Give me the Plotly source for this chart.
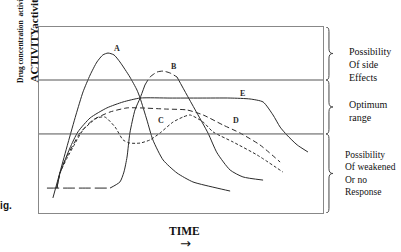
import plotly.graph_objects as go

# ---- data (time 0-100, response 0-100) ----
A_x = [4.9, 7.4, 10.2, 13.0, 15.5, 18.0, 20.4, 22.5, 24.3, 26.4, 28.5, 32.0, 34.5, 35.6, 38.0, 40.1, 43.7, 48.6, 54.2, 62.7, 67.3]
A_y = [8.1, 22.0, 37.6, 52.7, 65.1, 74.2, 81.2, 85.0, 86.0, 85.0, 81.2, 73.1, 66.1, 61.8, 50.0, 39.3, 28.5, 21.5, 16.7, 13.4, 11.8]

B_x = [2.8, 10.9, 18.0, 25.0, 28.5, 29.9, 31.0, 32.0, 33.8, 35.6, 37.3, 39.1, 41.6, 43.7, 46.1, 48.6, 52.1, 55.6, 59.5, 62.7, 67.3, 71.8, 78.9]
B_y = [13.4, 13.4, 13.4, 13.4, 16.7, 22.0, 30.1, 43.0, 55.4, 61.8, 68.8, 73.1, 75.8, 76.3, 75.3, 73.1, 63.4, 53.8, 43.0, 32.3, 23.1, 19.4, 17.7]

C_x = [6.3, 7.4, 9.9, 12.0, 15.5, 20.4, 23.2, 26.8, 29.6, 32.0, 35.6, 39.1, 42.6, 47.2, 50.7, 53.2, 57.8, 61.3, 68.3, 76.8, 85.9]
C_y = [13.4, 21.5, 29.6, 35.5, 44.6, 51.1, 51.6, 46.2, 39.3, 37.6, 37.6, 39.3, 43.0, 48.9, 51.6, 52.7, 48.9, 43.6, 38.2, 31.2, 22.0]

D_x = [6.3, 7.4, 9.5, 12.0, 14.4, 19.0, 25.0, 31.0, 35.6, 44.4, 52.1, 57.8, 64.8, 70.8, 77.8, 84.9]
D_y = [13.4, 21.5, 29.6, 36.6, 43.0, 50.0, 54.3, 56.5, 56.5, 55.9, 55.4, 52.7, 47.3, 43.0, 36.6, 27.4]

E_x = [6.3, 7.4, 9.2, 10.9, 13.7, 18.0, 23.9, 29.6, 35.6, 46.1, 56.7, 67.3, 74.3, 78.9, 82.4, 84.9, 87.3, 90.9, 94.7]
E_y = [13.4, 21.5, 28.5, 35.0, 43.6, 51.1, 56.5, 59.7, 61.8, 61.8, 61.8, 61.8, 61.3, 59.7, 52.7, 46.2, 41.9, 36.6, 32.8]

curve_names = ["A", "B", "C", "D", "E"]
label_x = [27.5, 47.5, 43.0, 69.4, 71.8]
label_y = [88.2, 78.5, 49.5, 49.5, 64.0]

zone_limits = [42.5, 71.5]          # optimum range borders
zone_texts = ["Possibility<br>Of side<br>Effects", "Optimum<br>range",
              "Possibility<br>Of weakened<br>Or no<br>Response"]
zone_text_y = [79.6, 55.1, 21.0]

INK = "#2a2a2a"
fig = go.Figure()


def add_line(x, y, dash="solid"):
    fig.add_trace(go.Scatter(x=x, y=y, mode="lines", showlegend=False, hoverinfo="skip",
                             line=dict(color=INK, width=1, dash=dash, shape="spline", smoothing=0.6)))


add_line(A_x, A_y)
# B: long-dashed baseline, solid rise, dashed top, solid fall
add_line(B_x[:4], B_y[:4], "12px,4px")
add_line(B_x[3:11], B_y[3:11])
add_line(B_x[10:16], B_y[10:16], "6px,3px")
add_line(B_x[15:], B_y[15:])
add_line(C_x, C_y, "3px,2px")
add_line(D_x, D_y, "5px,3px")
add_line(E_x, E_y)

serif = "Liberation Serif, Times New Roman, serif"

for n, lx, ly in zip(curve_names, label_x, label_y):
    fig.add_annotation(x=lx, y=ly, text="<b>%s</b>" % n, showarrow=False,
                       font=dict(family=serif, size=8, color=INK))

for lim in zone_limits:
    fig.add_shape(type="line", xref="paper", x0=0, x1=1, yref="y", y0=lim, y1=lim,
                  line=dict(color="#555555", width=1))

# braces on the right
bounds = [100, zone_limits[1], zone_limits[0], 0]
x_end, x_sp, x_tip = 1.0106, 1.021, 1.035
for i in range(3):
    top, bot = bounds[i], bounds[i + 1]
    mid = (top + bot) / 2
    d = 2.5
    path = (f"M {x_end},{top} Q {x_sp},{top} {x_sp},{top - d} "
            f"L {x_sp},{mid + d} Q {x_sp},{mid} {x_tip},{mid} "
            f"Q {x_sp},{mid} {x_sp},{mid - d} L {x_sp},{bot + d} "
            f"Q {x_sp},{bot} {x_end},{bot}")
    fig.add_shape(type="path", xref="paper", yref="y", path=path,
                  line=dict(color="#444444", width=1))

zone_x = [1.0845, 1.0845, 1.0704]
zone_size = [10, 10, 9.5]
for t, ty, tx, fs in zip(zone_texts, zone_text_y, zone_x, zone_size):
    fig.add_annotation(xref="paper", x=tx, yref="y", y=ty, text=t, showarrow=False,
                       xanchor="left", yanchor="middle", align="left",
                       font=dict(family=serif, size=fs, color="#111111"))

# y-axis titles (rotated, clipped at the top like the original)
fig.add_annotation(xref="paper", x=(20 - 39) / 284, yref="paper", y=(213 - 85) / 186,
                   text="<b>Drug concentration  activity</b>", textangle=-90, showarrow=False,
                   xanchor="center", yanchor="bottom", font=dict(family=serif, size=7.5, color="#111111"))
fig.add_annotation(xref="paper", x=(33 - 39) / 284, yref="paper", y=(213 - 85) / 186,
                   text="<b>ACTIVITYactivity</b>", textangle=-90, showarrow=False,
                   xanchor="center", yanchor="bottom", font=dict(family=serif, size=11, color="#111111"))

fig.add_annotation(xref="paper", x=(14 - 39) / 284, yref="paper", y=(213 - 205) / 186,
                   text="<b>Fig.</b>", showarrow=False, xanchor="right", yanchor="middle",
                   font=dict(family="Liberation Sans, Arial, sans-serif", size=10, color="#111111"))
fig.add_annotation(xref="paper", x=(184 - 39) / 284, yref="paper", y=(213 - 231) / 186,
                   text="<b>TIME</b>", showarrow=False, xanchor="center", yanchor="middle",
                   font=dict(family=serif, size=11.5, color="#111111"))
fig.add_annotation(xref="paper", x=(185 - 39) / 284, yref="paper", y=(213 - 243) / 186,
                   text="→", showarrow=False, xanchor="center", yanchor="middle",
                   font=dict(family="DejaVu Sans, sans-serif", size=13, color="#111111"))

axis_common = dict(showgrid=False, zeroline=False, showticklabels=False, ticks="",
                   showline=True, mirror=True, linecolor="#888888", linewidth=1, fixedrange=True)
fig.update_layout(
    width=401, height=252,
    margin=dict(l=39, r=78, t=27, b=39),
    paper_bgcolor="white", plot_bgcolor="white",
    xaxis=dict(range=[0, 100], **axis_common),
    yaxis=dict(range=[0, 100], **axis_common),
    showlegend=False,
)

fig.write_html("out.html")
